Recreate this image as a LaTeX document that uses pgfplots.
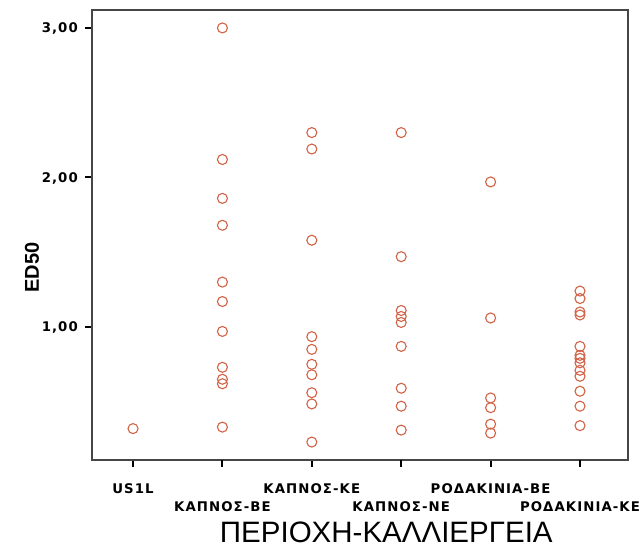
\documentclass[border=0pt]{standalone}
\usepackage{pgfplots}
\pgfplotsset{compat=1.18}
\usepackage{fontspec}
\setmainfont{Liberation Sans}
\newfontfamily\tickfam{DejaVu Sans}[LetterSpace=8]
\definecolor{mk}{RGB}{210,98,70}
\definecolor{fr}{RGB}{70,70,70}
\newcommand{\tickfont}{\tickfam\fontsize{13.3bp}{15bp}\selectfont\bfseries}
\begin{document}
\begin{tikzpicture}
\begin{axis}[
  name=ax,
  scale only axis, width=536bp, height=450bp,
  xmin=-0.459, xmax=5.537, ymin=0.11, ymax=3.12,
  axis background/.style={draw=fr, line width=1.2bp},
  axis line style={fr, line width=1.2bp},
  tick align=outside, tick pos=left,
  major tick length=7bp,
  tick style={black, line width=2bp},
  xtick={0,2,4},
  xticklabels={US1L,ΚΑΠΝΟΣ-ΚΕ,ΡΟΔΑΚΙΝΙΑ-ΒΕ},
  extra x ticks={1,3,5},
  extra x tick labels={ΚΑΠΝΟΣ-ΒΕ,ΚΑΠΝΟΣ-ΝΕ,ΡΟΔΑΚΙΝΙΑ-ΚΕ},
  extra x tick style={xticklabel style={yshift=-18bp}},
  xticklabel style={font=\tickfont, anchor=base, inner sep=0pt, yshift=-26bp},
  ytick={1,2,3},
  yticklabels={{1,00},{2,00},{3,00}},
  yticklabel style={font=\tickfont, anchor=base east, inner sep=0pt, xshift=-7bp, yshift=-4.8bp},
  xlabel={ΠΕΡΙΟΧΗ-ΚΑΛΛΙΕΡΓΕΙΑ},
  xlabel style={at={(rel axis cs:0.549,0)}, anchor=base, inner sep=0pt, yshift=-82bp, font=\fontsize{29.5bp}{31bp}\selectfont},
  ylabel={ED50},
  ylabel style={at={(rel axis cs:-0.112,0.428)}, anchor=center, font=\fontsize{20bp}{22bp}\selectfont\bfseries},
  clip=false,
]
\addplot[only marks, mark=o, mark size=5bp, mark options={mk, line width=1.1bp}] table {
x y
0 0.32
1 3.00
1 2.12
1 1.86
1 1.68
1 1.30
1 1.17
1 0.97
1 0.73
1 0.65
1 0.62
1 0.33
2 2.30
2 2.19
2 1.58
2 0.935
2 0.85
2 0.75
2 0.68
2 0.56
2 0.485
2 0.23
3 2.30
3 1.47
3 1.11
3 1.07
3 1.03
3 0.87
3 0.59
3 0.47
3 0.31
4 1.97
4 1.06
4 0.525
4 0.46
4 0.35
4 0.29
5 1.24
5 1.19
5 1.10
5 1.08
5 0.87
5 0.81
5 0.79
5 0.76
5 0.71
5 0.67
5 0.57
5 0.47
5 0.34
};
\end{axis}
\path (ax.south west) ++(-92bp,-88bp);
\path (ax.north east) ++(13bp,10bp);
\end{tikzpicture}
\end{document}
